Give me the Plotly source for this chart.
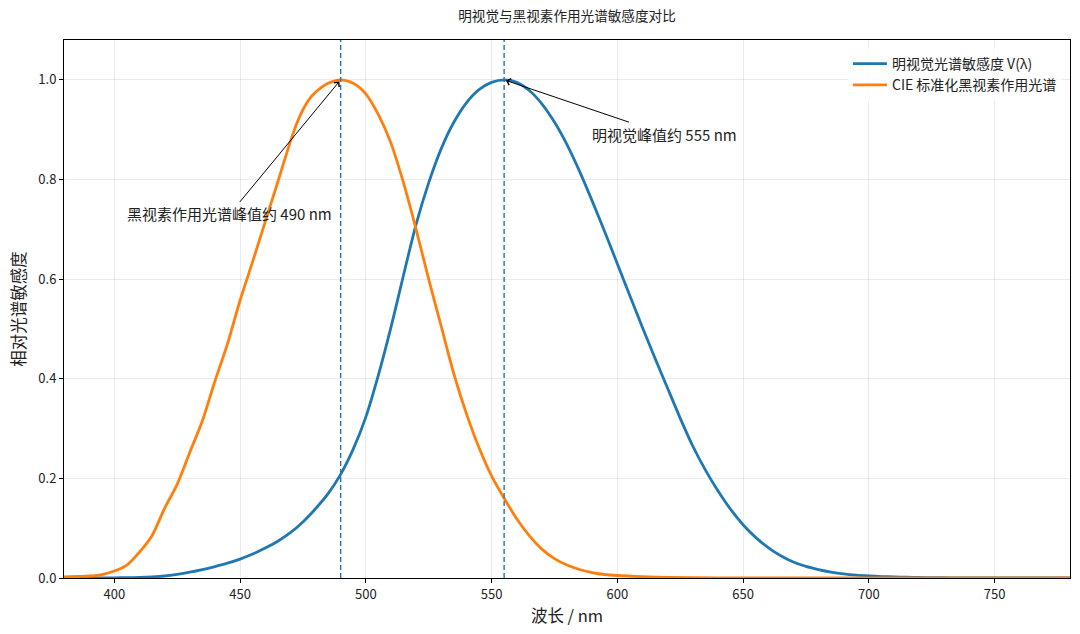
import plotly.graph_objects as go

# ---- data ----
wl_photopic = list(range(380, 785, 5))
v_photopic = [0.000039, 0.000064, 0.00012, 0.000217, 0.000396, 0.00064, 0.00121, 0.00218,
              0.004, 0.0073, 0.0116, 0.01684, 0.023, 0.0298, 0.038, 0.048, 0.06, 0.0739,
              0.09098, 0.1126, 0.13902, 0.1693, 0.20802, 0.2586, 0.323, 0.4073, 0.503,
              0.6082, 0.71, 0.7932, 0.862, 0.91485, 0.954, 0.9803, 0.99495, 1.0, 0.995,
              0.9786, 0.952, 0.9154, 0.87, 0.8163, 0.757, 0.6949, 0.631, 0.5668, 0.503,
              0.4412, 0.381, 0.321, 0.265, 0.217, 0.175, 0.1382, 0.107, 0.0816, 0.061,
              0.04458, 0.032, 0.0232, 0.017, 0.01192, 0.00821, 0.005723, 0.004102,
              0.002929, 0.002091, 0.001484, 0.001047, 0.00074, 0.00052, 0.000361,
              0.000249, 0.000172, 0.00012, 0.000085, 0.00006, 0.000042, 0.00003,
              0.000021, 0.000015]

wl_melanopic = [380, 385, 390, 395, 400, 405, 410, 415, 420, 425, 430, 435, 440, 445, 450,
                455, 460, 465, 470, 472.5, 475, 477.5, 480, 485, 490, 495, 500, 505, 510,
                515, 520, 525, 530, 535, 540, 545, 550, 555, 560, 565, 570, 575, 580, 585,
                590, 595, 600, 610, 620, 640, 660, 700, 780]
v_melanopic = [0.002, 0.003, 0.004, 0.007, 0.014, 0.026, 0.052, 0.085, 0.14, 0.188, 0.252,
               0.315, 0.395, 0.47, 0.557, 0.635, 0.715, 0.795, 0.876, 0.912, 0.940, 0.961,
               0.975, 0.993, 1.0, 0.993, 0.972, 0.93, 0.873, 0.793, 0.70, 0.60, 0.505,
               0.41, 0.330, 0.262, 0.205, 0.160, 0.119, 0.085, 0.058, 0.039, 0.026,
               0.017, 0.011, 0.007, 0.005, 0.0025, 0.001, 0.0003, 0.0001, 0.0, 0.0]

series_names = ["明视觉光谱敏感度 V(λ)", "CIE 标准化黑视素作用光谱"]
peak_wl = [490, 555]
peak_val = [1.0, 1.0]
peak_text = ["黑视素作用光谱峰值约 490 nm", "明视觉峰值约 555 nm"]
label_pos = [(446.0, 0.731), (618.7, 0.891)]

title_text = "明视觉与黑视素作用光谱敏感度对比"
x_title = "波长 / nm"
y_title = "相对光谱敏感度"

BLUE = "#1f77b4"
ORANGE = "#ff7f0e"
FONT = "Noto Sans CJK SC, Noto Sans, DejaVu Sans, sans-serif"

fig = go.Figure()
fig.add_trace(go.Scatter(x=wl_photopic, y=v_photopic, mode="lines", name=series_names[0],
                         line=dict(color=BLUE, width=2.8, shape="spline", smoothing=0.8)))
fig.add_trace(go.Scatter(x=wl_melanopic, y=v_melanopic, mode="lines", name=series_names[1],
                         line=dict(color=ORANGE, width=2.8, shape="spline", smoothing=0.8)))

for p in peak_wl:
    fig.add_shape(type="line", x0=p, x1=p, xref="x", yref="paper", y0=0, y1=1,
                  line=dict(color=BLUE, width=1.4, dash="5px,3px"), layer="above")

for px, pv, txt, (tx, ty) in zip(peak_wl, peak_val, peak_text, label_pos):
    fig.add_annotation(x=px, y=pv, xref="x", yref="y", ax=tx, ay=ty, axref="x", ayref="y",
                       text=txt, showarrow=True, arrowhead=4, arrowsize=1.3, arrowwidth=1,
                       arrowcolor="black", font=dict(size=15, color="#222", family=FONT),
                       standoff=2)

fig.update_layout(
    width=1080, height=634,
    margin=dict(l=64, r=10, t=40, b=56),
    paper_bgcolor="white", plot_bgcolor="white",
    font=dict(family=FONT, size=13, color="#222"),
    title=dict(text=title_text, x=0.5, xref="paper", xanchor="center", y=0.975, yanchor="middle",
               font=dict(size=13.6, color="#222", family=FONT)),
    legend=dict(x=0.992, y=0.985, xanchor="right", yanchor="top", bgcolor="rgba(255,255,255,0.8)",
                font=dict(size=14, family=FONT), tracegroupgap=0, itemwidth=34),
    showlegend=True,
)
fig.update_xaxes(range=[380, 780], dtick=50, tick0=400, showgrid=True, gridcolor="rgba(0,0,0,0.08)",
                 showline=True, linecolor="black", linewidth=1, mirror=True, ticks="outside",
                 ticklen=4, tickcolor="black", zeroline=False,
                 title=dict(text=x_title, font=dict(size=16.5, family=FONT), standoff=8),
                 tickfont=dict(size=13))
fig.update_yaxes(range=[0, 1.08], dtick=0.2, tickformat=".1f", showgrid=True,
                 gridcolor="rgba(0,0,0,0.08)", showline=True, linecolor="black", linewidth=1,
                 mirror=True, ticks="outside", ticklen=4, tickcolor="black", zeroline=False,
                 title=dict(text=y_title, font=dict(size=16.5, family=FONT), standoff=8),
                 tickfont=dict(size=13))

fig.write_html("out.html")
